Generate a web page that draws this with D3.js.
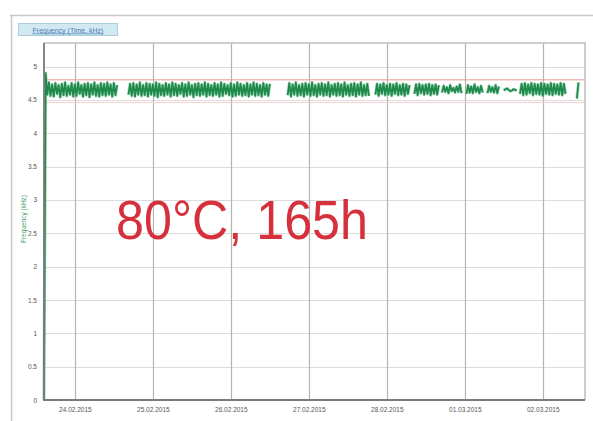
<!DOCTYPE html>
<html><head><meta charset="utf-8">
<script src="https://cdn.jsdelivr.net/npm/d3@7"></script>
<style>html,body{margin:0;padding:0;background:#fff;}svg{display:block;}</style>
</head><body><svg id="c" width="593" height="421"></svg>
<script>
// ---- data ----
const startTime = new Date(2015, 1, 23, 14, 30);   // first sample
const stepHours = 0.5;                             // sampling interval
const endHours = 166.5;
const yTicks = [0, 0.5, 1, 1.5, 2, 2.5, 3, 3.5, 4, 4.5, 5];
const yTickLabels = ["0", "0.5", "1", "1.5", "2", "2.5", "3", "3.5", "4", "4.5", "5"];
const dayTicks = ["24.02.2015", "25.02.2015", "26.02.2015", "27.02.2015", "28.02.2015", "01.03.2015", "02.03.2015"];
const limits = [4.80, 4.46];
const freq = [
0.00,4.90,4.58,4.76,4.56,4.73,4.55,4.75,4.59,4.72,4.54,4.74,4.57,4.76,4.56,4.71,4.58,4.75,4.55,4.73,
4.56,4.76,4.59,4.72,4.55,4.74,4.57,4.75,4.54,4.73,4.58,4.76,4.56,4.72,4.55,4.75,4.57,4.74,4.56,4.76,
4.58,4.73,4.55,4.75,4.57,4.72,null,null,null,null,null,null,4.58,4.74,4.56,4.75,4.55,4.73,4.58,4.76,
4.56,4.72,4.57,4.75,4.55,4.74,4.58,4.73,4.56,4.76,4.54,4.74,4.57,4.72,4.56,4.75,4.58,4.73,4.55,4.76,
4.57,4.74,4.56,4.72,4.59,4.75,4.55,4.73,4.56,4.76,4.58,4.72,4.54,4.74,4.57,4.75,4.56,4.73,4.58,4.76,
4.55,4.74,4.57,4.72,4.56,4.75,4.58,4.73,4.55,4.76,4.56,4.74,4.59,4.72,4.57,4.75,4.55,4.73,4.56,4.76,
4.58,4.74,4.56,4.72,4.57,4.75,4.55,4.73,4.58,4.76,4.56,4.74,4.57,4.72,4.55,4.75,4.58,4.73,4.56,4.74,
null,null,null,null,null,null,null,null,null,null,4.57,4.75,4.55,4.73,4.58,4.76,4.56,4.72,4.57,4.74,
4.55,4.75,4.58,4.73,4.56,4.76,4.57,4.72,4.55,4.74,4.58,4.75,4.56,4.73,4.57,4.76,4.55,4.72,4.58,4.74,
4.56,4.75,4.57,4.73,4.55,4.76,4.58,4.72,4.56,4.74,4.57,4.75,4.55,4.73,4.58,4.76,4.56,4.72,4.57,4.74,
4.56,null,null,null,4.58,4.74,4.56,4.73,4.59,4.75,4.57,4.72,4.58,4.74,4.56,4.73,4.59,4.75,4.57,4.72,
4.58,4.74,4.56,4.73,4.59,4.72,null,null,4.59,4.73,4.57,4.74,4.60,4.72,4.58,4.73,4.59,4.74,4.57,4.72,
4.59,4.73,4.58,4.72,null,4.61,4.71,4.62,4.69,4.60,4.72,4.63,4.68,4.61,4.70,4.62,4.73,4.60,null,null,
4.59,4.72,4.61,4.70,4.60,4.73,4.62,4.69,4.60,4.71,4.61,null,null,4.60,4.71,4.62,4.69,4.61,4.72,4.60,
4.70,null,null,4.64,4.66,4.67,4.65,4.63,4.64,4.66,4.65,4.64,null,4.59,4.74,4.57,4.75,4.58,4.73,4.60,
4.75,4.57,4.74,4.59,4.73,4.58,4.75,4.56,4.74,4.59,4.73,4.58,4.75,4.57,4.74,4.59,4.73,4.58,4.75,4.57,
4.74,4.59,null,null,null,null,null,null,4.52,4.76,null,null,null,null
];

// ---- layout ----
const svg = d3.select("#c");
const L = 44, R = 585, T = 43, B = 400;
const hour = 3600 * 1000;
const x = d3.scaleTime()
  .domain([startTime, new Date(+startTime + endHours * hour)])
  .range([L, R]);
const y = d3.scaleLinear().domain([0, 5]).range([B, 66.5]);
const font = "Liberation Sans, Arial, sans-serif";

// outer frame
svg.append("line").attr("x1", 10).attr("x2", 593).attr("y1", 15.5).attr("y2", 15.5)
  .attr("stroke", "#c8c8c8").attr("stroke-width", 1.5);
svg.append("line").attr("x1", 11.5).attr("x2", 11.5).attr("y1", 15).attr("y2", 421)
  .attr("stroke", "#c8c8c8").attr("stroke-width", 1.5);

// title tab
svg.append("rect").attr("x", 18.5).attr("y", 23.5).attr("width", 99).attr("height", 12)
  .attr("fill", "#d3e9f2").attr("stroke", "#a9cfdc");
svg.append("text").attr("x", 68).attr("y", 32.5).attr("text-anchor", "middle")
  .attr("font-family", font).attr("font-size", 7)
  .attr("fill", "#4a7cb8").attr("text-decoration", "underline")
  .text("Frequency (Time, kHz)");

// horizontal gridlines
svg.append("g").selectAll("line").data(yTicks).join("line")
  .attr("x1", L).attr("x2", R)
  .attr("y1", d => Math.round(y(d)) + 0.5).attr("y2", d => Math.round(y(d)) + 0.5)
  .attr("stroke", "#dcdcdc").attr("stroke-width", 1);

// vertical day gridlines
const days = d3.timeDay.range(d3.timeDay.ceil(startTime), x.domain()[1]);
svg.append("g").selectAll("line").data(days).join("line")
  .attr("x1", d => Math.round(x(d)) + 0.5).attr("x2", d => Math.round(x(d)) + 0.5)
  .attr("y1", T).attr("y2", B)
  .attr("stroke", "#b4b4b4").attr("stroke-width", 1.2);

// top & right border
svg.append("path").attr("d", `M${L},${T}H${R}V${B}`).attr("fill", "none")
  .attr("stroke", "#bdbdbd").attr("stroke-width", 1.5);

// limit lines
svg.append("g").selectAll("line").data(limits).join("line")
  .attr("x1", L).attr("x2", R).attr("y1", d => y(d)).attr("y2", d => y(d))
  .attr("stroke", (d, i) => i === 0 ? "#e79a9a" : "#f1d0d0").attr("stroke-width", 1);

// y axis
const yAxis = d3.axisLeft(y).tickValues(yTicks).tickSize(0).tickPadding(7)
  .tickFormat((d, i) => yTickLabels[i]);
const gy = svg.append("g").attr("transform", `translate(${L},0)`).call(yAxis);
gy.select(".domain").remove();
gy.selectAll("text").attr("font-family", font).attr("font-size", 6.5).attr("fill", "#555");

// x axis
const xAxis = d3.axisBottom(x).tickValues(days).tickSize(0).tickPadding(7)
  .tickFormat((d, i) => dayTicks[i]);
const gx = svg.append("g").attr("transform", `translate(0,${B})`).call(xAxis);
gx.select(".domain").remove();
gx.selectAll("text").attr("font-family", font).attr("font-size", 6.5).attr("fill", "#555");

// y axis title
svg.append("text").attr("transform", "translate(26,219) rotate(-90)")
  .attr("text-anchor", "middle").attr("font-family", font)
  .attr("font-size", 6.5).attr("fill", "#3f9e6a").text("Frequency (kHz)");

// data line (soft halo + core)
const pts = freq.map((v, i) => ({ t: new Date(+startTime + i * stepHours * hour), v }));
const line = d3.line().defined(d => d.v !== null).x(d => x(d.t)).y(d => y(d.v));
svg.append("path").datum(pts).attr("d", line).attr("fill", "none")
  .attr("stroke", "#7cc79a").attr("stroke-width", 3.2).attr("stroke-opacity", 0.6)
  .attr("stroke-linejoin", "round");
svg.append("path").datum(pts).attr("d", line).attr("fill", "none")
  .attr("stroke", "#1f8a4c").attr("stroke-width", 1.8).attr("stroke-linejoin", "round");

// left & bottom axis lines
svg.append("path").attr("d", `M${L},${T}V${B}H${R}`).attr("fill", "none")
  .attr("stroke", "#7a7a7a").attr("stroke-width", 1.8);

// annotation
svg.append("text").attr("x", 116).attr("y", 239)
  .attr("font-family", font).attr("font-size", 56)
  .attr("fill", "#d6303c").attr("textLength", 252).attr("lengthAdjust", "spacingAndGlyphs")
  .text("80°C, 165h");
</script></body></html>
